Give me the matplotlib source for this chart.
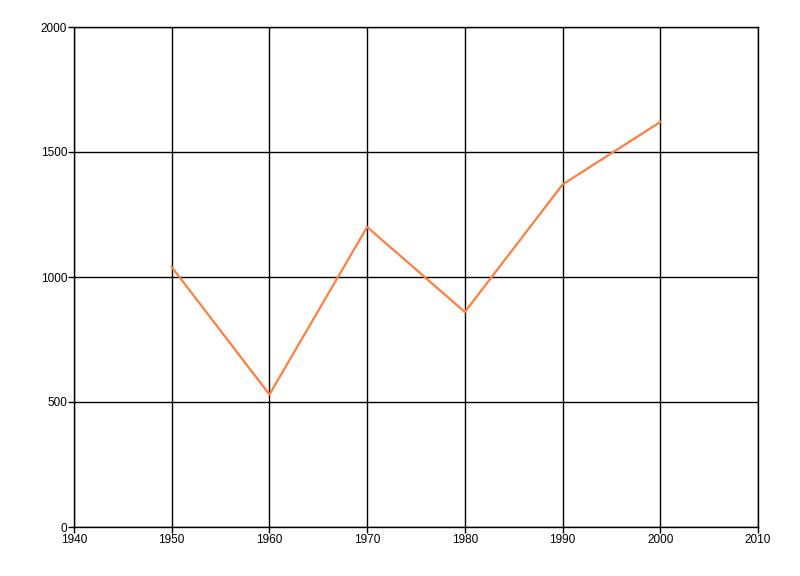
import matplotlib
matplotlib.use('Agg')
import matplotlib.pyplot as plt

years = [1950, 1960, 1970, 1980, 1990, 2000]
values = [1040, 530, 1200, 860, 1370, 1620]
x_ticks = [1940, 1950, 1960, 1970, 1980, 1990, 2000, 2010]
y_ticks = [0, 500, 1000, 1500, 2000]

plt.rcParams['font.family'] = ['Liberation Sans', 'DejaVu Sans']

fig = plt.figure(figsize=(8, 5.76), dpi=100)
ax = fig.add_axes([74/800, 49/576, 684/800, 500/576])

ax.plot(years, values, color='#FF7F3F', linewidth=1.6)

ax.set_xlim(1940, 2010)
ax.set_ylim(0, 2000)
ax.set_xticks(x_ticks)
ax.set_yticks(y_ticks)
ax.grid(True, color='black', linewidth=1.0)
ax.set_axisbelow(True)
for s in ax.spines.values():
    s.set_linewidth(1.0)
    s.set_color('black')
ax.tick_params(axis='both', length=4, width=1.0, labelsize=8.5, pad=1)

fig.savefig('out.png', dpi=100)
